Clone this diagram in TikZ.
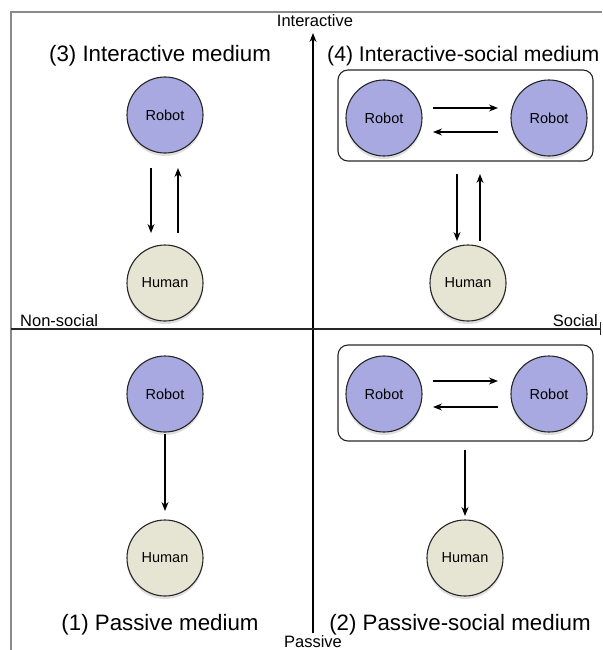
\documentclass[tikz,border=0pt]{standalone}
\usepackage{fontspec}
\setmainfont{Liberation Sans}
\usetikzlibrary{arrows.meta,shadows}
\definecolor{robotfill}{HTML}{A9A9E2}
\definecolor{humanfill}{HTML}{E6E4D3}
\definecolor{framegray}{HTML}{8A8A8A}
\tikzset{
  agent/.style={circle, draw=black!85, line width=1.1pt, minimum size=76pt, inner sep=0pt,
    font=\fontsize{14.5}{16}\selectfont, drop shadow={opacity=0.25, shadow xshift=0pt, shadow yshift=-3pt}},
  robot/.style={agent, fill=robotfill},
  human/.style={agent, fill=humanfill},
  arr/.style={-{Stealth[length=9pt,width=7pt]}, line width=1.1pt, black},
  grp/.style={draw=black!85, line width=1.1pt, rounded corners=10pt},
  title/.style={font=\fontsize{22.3}{25}\selectfont, inner sep=0pt},
  axislabel/.style={font=\fontsize{16.5}{18}\selectfont, inner sep=0pt},
}
\begin{document}
\begin{tikzpicture}[x=1pt,y=-1pt]
\useasboundingbox (0,0) rectangle (602,650);
% frame
\draw[framegray, line width=1.6pt] (11,650) -- (11,12) -- (602,12);
% axes
\coordinate (vtop) at (313,33);
\coordinate (vbot) at (313,633);
\coordinate (hleft) at (11,329);
\coordinate (hright) at (600,329);
\draw[arr, line width=1.2pt] (vbot) -- (vtop);
\draw[line width=1.2pt, black!85] (hleft) -- (hright);
\draw[line width=1pt, black!85] (600,322) -- (600,335);
\node[axislabel] (linter) at (315,21) {Interactive};
\node[axislabel] (lpass) at (313,642) {Passive};
\node[axislabel, anchor=base west] (lnon) at (20,326) {Non-social};
\node[axislabel, anchor=base east] (lsoc) at (598,326) {Social};
% titles
\node[title] (t3) at (160,56) {(3) Interactive medium};
\node[title, anchor=west, font=\fontsize{21.2}{24}\selectfont] (t4) at (327,56) {(4) Interactive-social medium};
\node[title] (t1) at (160,625) {(1) Passive medium};
\node[title] (t2) at (460,625) {(2) Passive-social medium};
% Q3
\node[robot] (r3) at (165,115) {Robot};
\node[human] (h3) at (165,283) {Human};
\coordinate (q3a) at (151,168); \coordinate (q3b) at (151,233);
\coordinate (q3c) at (178,233); \coordinate (q3d) at (178,168);
\draw[arr] (q3a) -- (q3b);
\draw[arr] (q3c) -- (q3d);
% Q4
\draw[grp] (338,70) rectangle (593,161);
\node[robot] (r4a) at (384,118) {Robot};
\node[robot] (r4b) at (549,118) {Robot};
\coordinate (q4a) at (433,108); \coordinate (q4b) at (498,108);
\coordinate (q4c) at (498,132); \coordinate (q4d) at (433,132);
\draw[arr] (q4a) -- (q4b);
\draw[arr] (q4c) -- (q4d);
\node[human] (h4) at (468,283) {Human};
\coordinate (q4e) at (457,174); \coordinate (q4f) at (457,241);
\coordinate (q4g) at (480,241); \coordinate (q4h) at (480,174);
\draw[arr] (q4e) -- (q4f);
\draw[arr] (q4g) -- (q4h);
% Q1
\node[robot] (r1) at (165,394) {Robot};
\node[human] (h1) at (165,558) {Human};
\coordinate (q1a) at (165,434); \coordinate (q1b) at (165,511);
\draw[arr] (q1a) -- (q1b);
% Q2
\draw[grp] (338,345) rectangle (593,441);
\node[robot] (r2a) at (384,394) {Robot};
\node[robot] (r2b) at (549,394) {Robot};
\coordinate (q2a) at (433,381); \coordinate (q2b) at (498,381);
\coordinate (q2c) at (498,407); \coordinate (q2d) at (433,407);
\draw[arr] (q2a) -- (q2b);
\draw[arr] (q2c) -- (q2d);
\node[human] (h2) at (465,558) {Human};
\coordinate (q2e) at (465,450); \coordinate (q2f) at (465,516);
\draw[arr] (q2e) -- (q2f);
\end{tikzpicture}
\end{document}
